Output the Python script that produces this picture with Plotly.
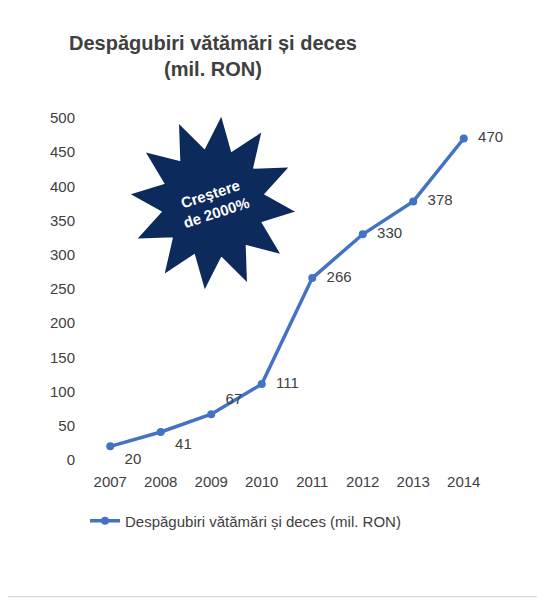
import math
import plotly.graph_objects as go

years = [2007, 2008, 2009, 2010, 2011, 2012, 2013, 2014]
values = [20, 41, 67, 111, 266, 330, 378, 470]
positions = ["bottom right", "bottom right", "top right", "middle right",
             "middle right", "middle right", "middle right", "middle right"]
series_name = "Despăgubiri vătămări și deces (mil. RON)"

W, H = 545, 600
L, R, T, B = 77, 64, 110, 148
pw, ph = W - L - R, H - T - B

def px2paper(x, y):
    return (x - L) / pw, (H - B - y) / ph

fig = go.Figure(go.Scatter(
    x=years, y=values, mode="lines+markers+text", name=series_name,
    text=["  " + str(v) for v in values], textposition=positions,
    textfont=dict(size=15, color="#404040"),
    line=dict(color="#4472C4", width=3.5), marker=dict(size=8, color="#4472C4"),
    cliponaxis=False))

cx, cy = 205, 195
pts = []
n = 12
for i in range(2 * n):
    a = math.pi * i / n + 0.1
    r = (80 if i % 2 == 0 else 50)
    pts.append(px2paper(cx + r * math.cos(a), cy + r * 1.05 * math.sin(a)))
path = "M " + " L ".join(f"{x:.4f},{y:.4f}" for x, y in pts) + " Z"
fig.add_shape(type="path", path=path, xref="paper", yref="paper",
              fillcolor="#0D2A5C", line=dict(color="#0D2A5C"))
ax, ay = px2paper(cx, cy)
fig.add_annotation(x=ax, y=ay, xref="paper", yref="paper", showarrow=False,
                   xanchor="center", yanchor="middle",
                   text="<b>Creştere<br>de 2000%</b>", textangle=-18,
                   font=dict(size=15, color="white", family="Arial"))

fig.update_layout(
    width=W, height=H, margin=dict(l=L, r=R, t=T, b=B),
    paper_bgcolor="white", plot_bgcolor="white",
    font=dict(family="Liberation Sans, Arial", color="#404040"),
    title=dict(text="<b>Despăgubiri vătămări și deces<br>(mil. RON)</b>",
               x=205 / W, xanchor="center", y=1 - 42 / H, yanchor="top",
               font=dict(size=20, color="#404040")),
    xaxis=dict(range=[2006.5, 2014.5], tickvals=years, showgrid=False,
               showline=False, zeroline=False, ticks="outside", ticklen=8,
               tickcolor="rgba(0,0,0,0)", tickfont=dict(size=15)),
    yaxis=dict(range=[0, 500], dtick=50, showgrid=False, showline=False,
               zeroline=False, ticks="outside", ticklen=6,
               tickcolor="rgba(0,0,0,0)", tickfont=dict(size=15)),
    showlegend=True,
    legend=dict(x=0, y=-0.13, xanchor="left", yanchor="top",
                font=dict(size=15, color="#404040")),
)
fig.add_shape(type="line", xref="paper", yref="paper", x0=-0.2, x1=1.2,
              y0=-0.40, y1=-0.40, line=dict(color="#d0d0d0", width=1))
fig.write_html("out.html")
